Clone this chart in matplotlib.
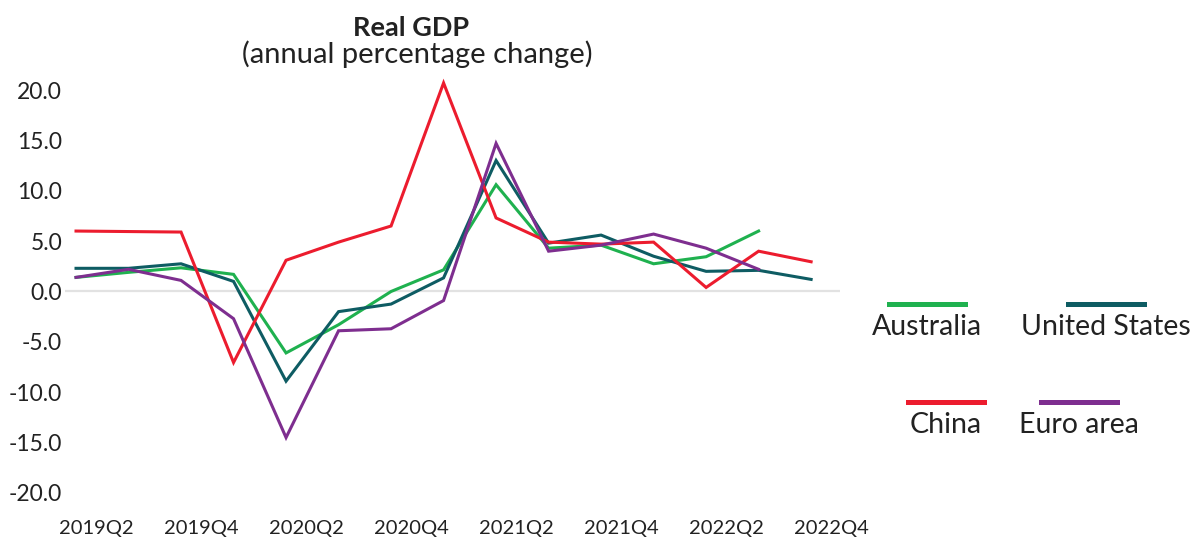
import matplotlib
matplotlib.use("Agg")
import matplotlib.pyplot as plt
from matplotlib.lines import Line2D
from matplotlib.transforms import ScaledTranslation

plt.rcParams['font.family'] = ['Lato', 'DejaVu Sans']

quarters = ["2019Q2", "2019Q3", "2019Q4", "2020Q1", "2020Q2", "2020Q3", "2020Q4",
            "2021Q1", "2021Q2", "2021Q3", "2021Q4", "2022Q1", "2022Q2", "2022Q3", "2022Q4"]

australia = [1.4, 1.9, 2.35, 1.7, -6.1, -3.3, 0.0, 2.15, 10.6, 4.3, 4.6, 2.75, 3.45, 6.0]
united_states = [2.3, 2.3, 2.75, 1.0, -8.9, -2.0, -1.25, 1.35, 13.0, 4.8, 5.6, 3.5, 2.0, 2.1, 1.2]
china = [6.0, 5.95, 5.9, -7.05, 3.1, 4.9, 6.5, 20.7, 7.3, 4.9, 4.7, 4.9, 0.4, 4.0, 2.95]
euro_area = [1.4, 2.2, 1.1, -2.7, -14.5, -3.9, -3.7, -0.9, 14.7, 4.0, 4.6, 5.7, 4.3, 2.2]

series = [
    ("Australia", australia, "#1fb14f"),
    ("United States", united_states, "#0e5c63"),
    ("China", china, "#ec1c2e"),
    ("Euro area", euro_area, "#7e2e8f"),
]

y_ticks = [20, 15, 10, 5, 0, -5, -10, -15, -20]
x_tick_labels = quarters[::2]

W, H = 1198, 537
fig = plt.figure(figsize=(W / 100, H / 100), dpi=100)
ax = fig.add_axes([65 / W, 1 - 498 / H, 775 / W, (498 - 74.9) / H])

ax.axhline(0, color="#e2e2e2", lw=1.6, zorder=1)
for name, vals, col in series:
    ax.plot(range(len(vals)), vals, color=col, lw=2.2, zorder=3, clip_on=False,
            solid_joinstyle="miter")

ax.set_xlim(-0.21, 14.55)
ax.set_ylim(-20.5, 21.5)
for s in ax.spines.values():
    s.set_visible(False)

ax.set_yticks(y_ticks)
ax.set_yticklabels([f"{v:.1f}" for v in y_ticks], fontsize=16.5, color="#222222")
ax.tick_params(axis="y", length=0, pad=2)

ax.set_xticks(range(0, len(quarters), 2))
ax.set_xticklabels(x_tick_labels, fontsize=14.5, color="#222222")
ax.tick_params(axis="x", length=0, pad=16)
off = ScaledTranslation(0.2, 0, fig.dpi_scale_trans)
for lab in ax.get_xticklabels():
    lab.set_transform(lab.get_transform() + off)

fig.text(411 / W, 1 - 36.5 / H, "Real GDP", ha="center", va="baseline",
         fontsize=19.5, fontweight="bold", color="#222222")
fig.text(417 / W, 1 - 63 / H, "(annual percentage change)", ha="center", va="baseline",
         fontsize=21, color="#222222")

# legend: 2x2 grid, swatch above centred label
legend_pos = [(927, 304, 335), (1106, 304, 335), (946, 402, 433), (1079, 402, 433)]
for (name, vals, col), (cx, ly, ty) in zip(series, legend_pos):
    fig.add_artist(Line2D([(cx - 38) / W, (cx + 38) / W], [1 - ly / H, 1 - ly / H],
                          color=col, lw=3.6, transform=fig.transFigure))
    fig.text(cx / W, 1 - ty / H, name, ha="center", va="baseline", fontsize=20.5,
             color="#222222")

fig.savefig("out.png", dpi=100)
